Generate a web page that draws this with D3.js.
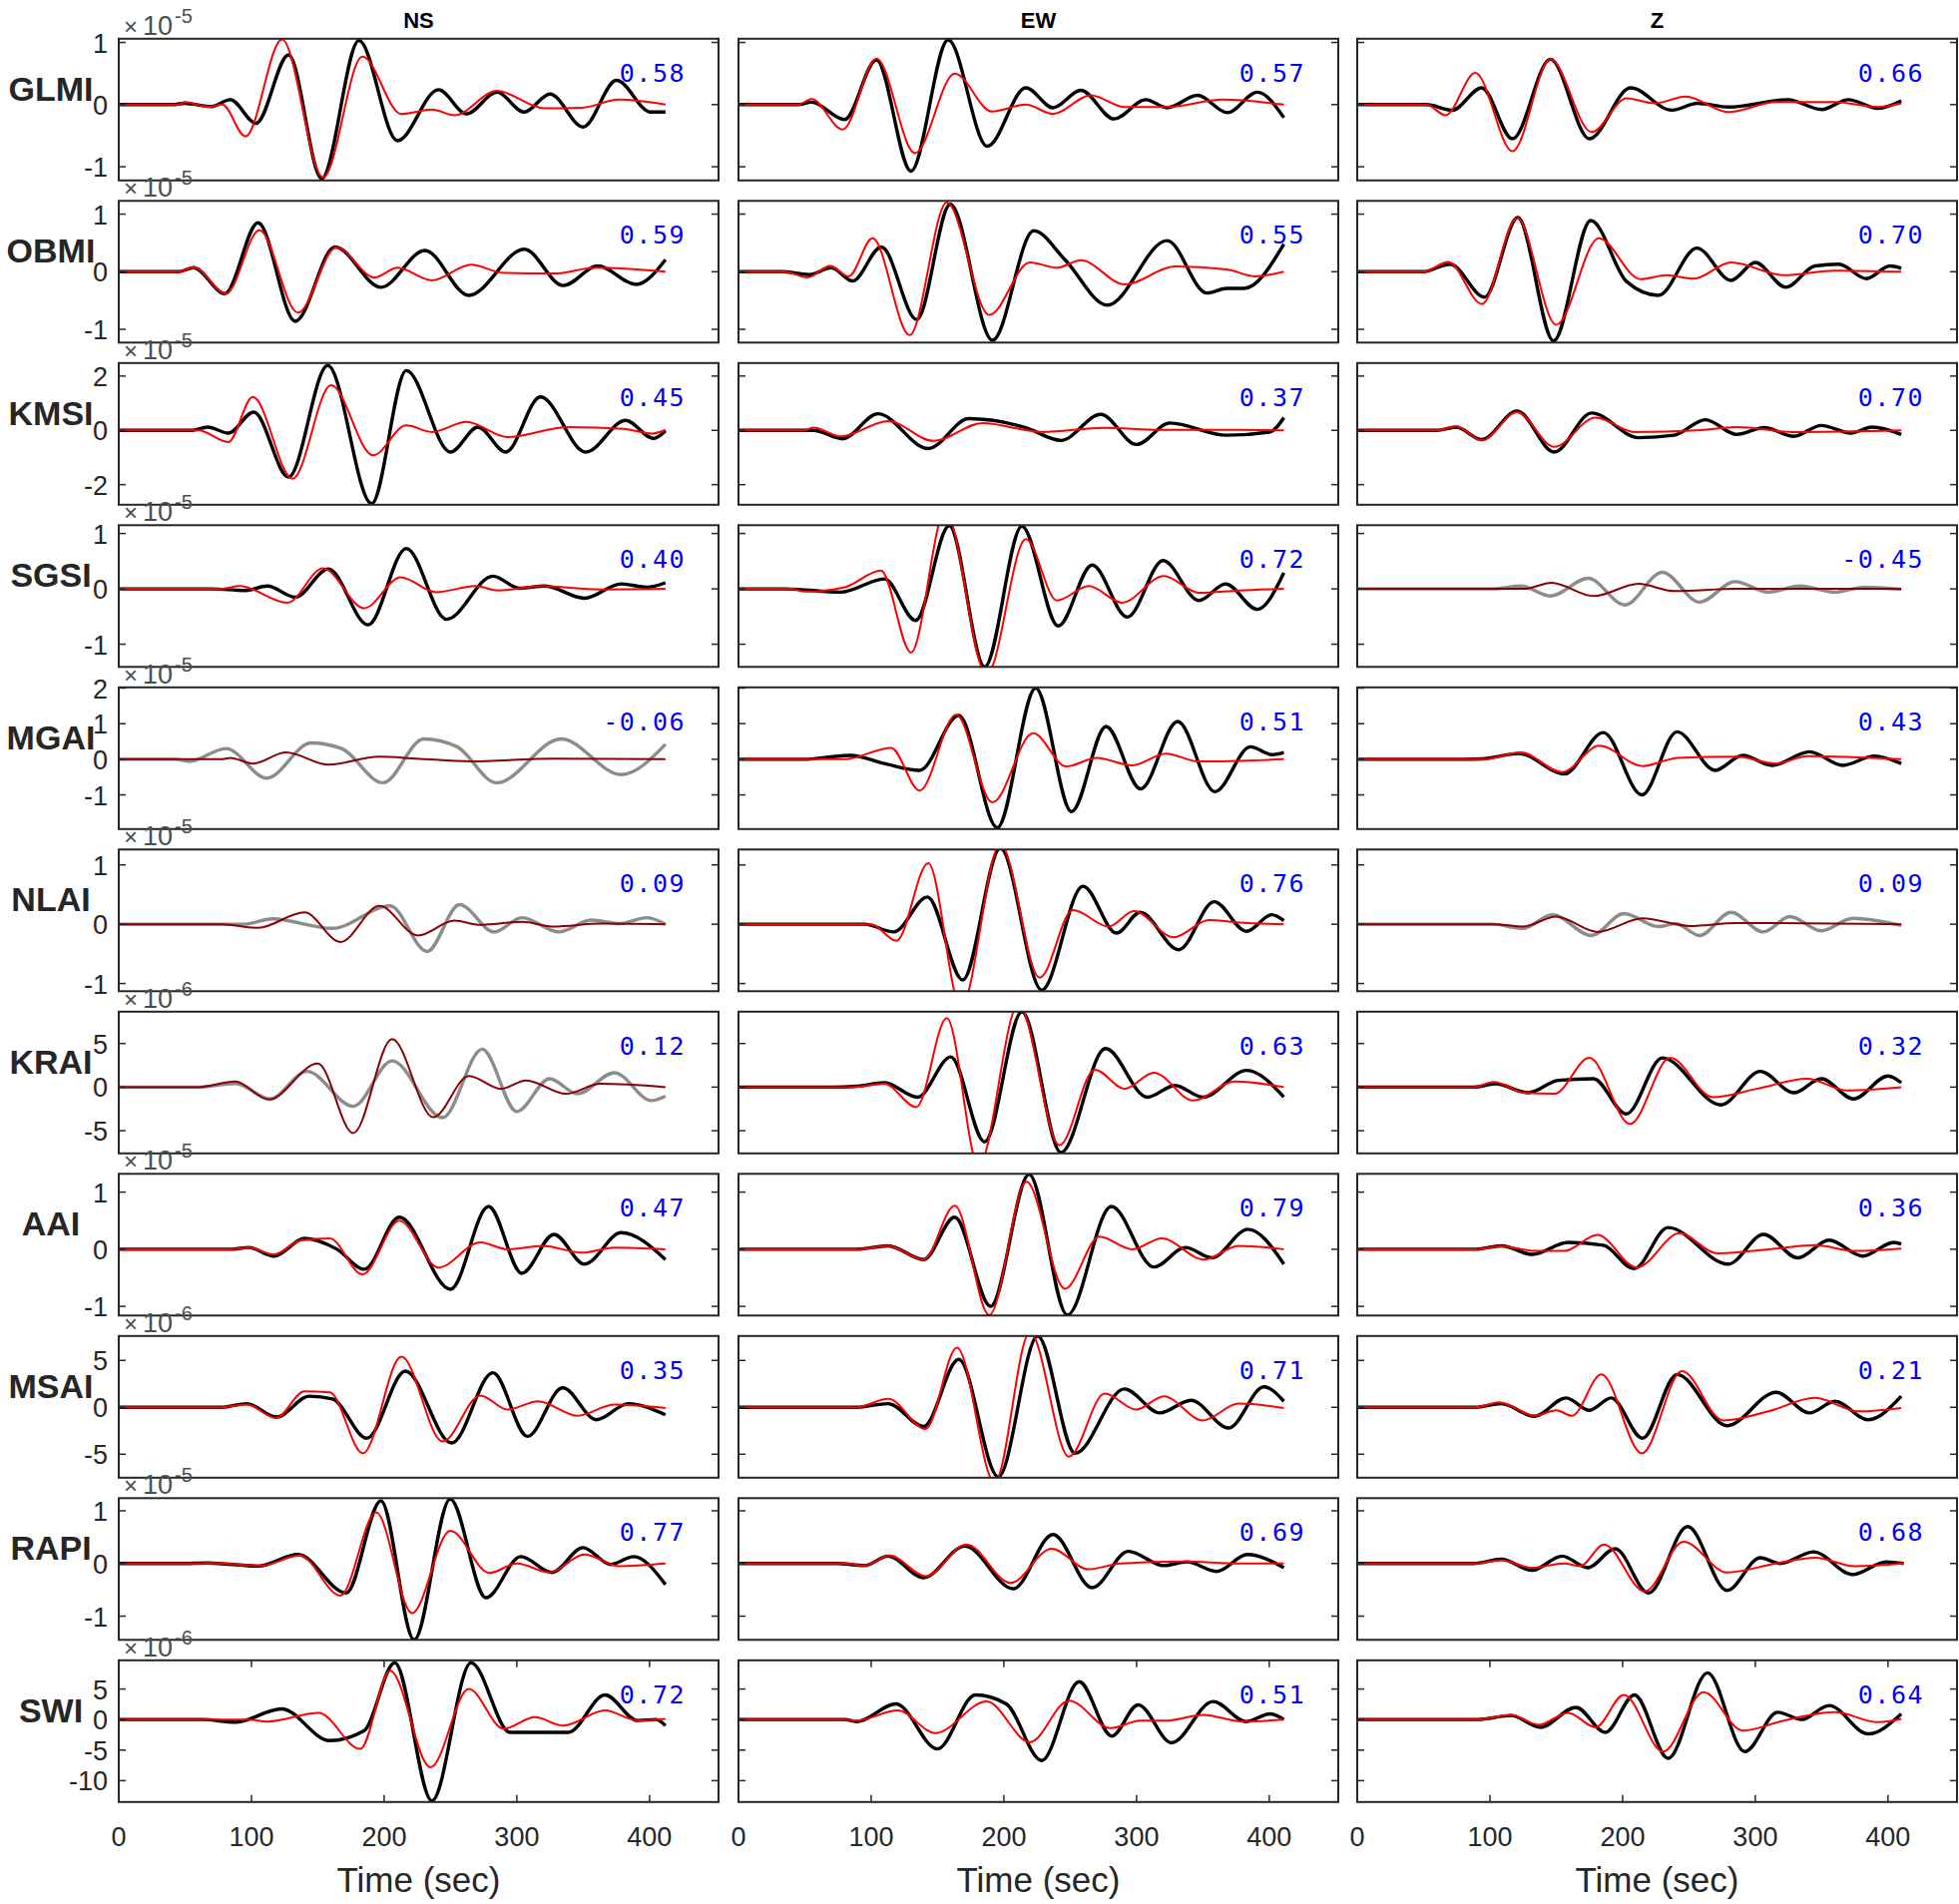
<!DOCTYPE html>
<html><head><meta charset="utf-8">
<script src="https://cdn.jsdelivr.net/npm/d3@7"></script>
<style>body{margin:0;background:#fff} svg{display:block}</style>
</head><body><svg id="chart" width="1963" height="1908"></svg>
<script>
// ---------------- DATA ----------------
const stations = ["GLMI","OBMI","KMSI","SGSI","MGAI","NLAI","KRAI","AAI","MSAI","RAPI","SWI"];
const components = ["NS","EW","Z"];
const corrNS = ["0.58","0.59","0.45","0.40","-0.06","0.09","0.12","0.47","0.35","0.77","0.72"];
const corrEW = ["0.57","0.55","0.37","0.72","0.51","0.76","0.63","0.79","0.71","0.69","0.51"];
const corrZ  = ["0.66","0.70","0.70","-0.45","0.43","0.09","0.32","0.36","0.21","0.68","0.64"];
const exponents = [-5,-5,-5,-5,-5,-5,-6,-5,-6,-5,-6];
const yMin = [-1.22,-1.23,-2.74,-1.41,-1.96,-1.13,-7.6,-1.16,-7.5,-1.45,-13.5];
const yMax = [1.06,1.23,2.48,1.15,2.02,1.26,8.65,1.32,7.6,1.24,9.7];
const yTicks = [[-1,0,1],[-1,0,1],[-2,0,2],[-1,0,1],[-1,0,1,2],[-1,0,1],[-5,0,5],[-1,0,1],[-5,0,5],[-1,0,1],[-10,-5,0,5]];
const xTicks = [0,100,200,300,400];
const xDomain = [0,452];
// traces flagged as poorly fitting (drawn grey / dark red)
const rejected = [[0,0,0],[0,0,0],[0,0,0],[0,0,1],[1,0,0],[1,0,1],[1,0,0],[0,0,0],[0,0,0],[0,0,0],[0,0,0]];

// observed (obs) and synthetic (syn) traces: [time s, amplitude] for NS, EW, Z
const obsGLMI = [
 [[0,0],[40,0],[49.5,0.02],[70,-0.03],[84,0.08],[103.5,-0.3],[128,0.8],[153,-1.19],[181,1.03],[210,-0.58],[241,0.24],[262,-0.15],[285,0.2],[305.5,-0.12],[325,0.17],[350,-0.36],[375,0.39],[401,-0.12],[412,-0.12]],
 [[0,0],[45,0],[55,0.04],[80,-0.24],[104,0.72],[130,-1.07],[158,1.04],[187.5,-0.67],[216.6,0.27],[237,-0.05],[258,0.23],[283,-0.23],[307,0.08],[323,-0.05],[346,0.15],[368.5,-0.13],[391,0.2],[411,-0.21]],
 [[0,0],[52,0],[71.6,-0.09],[93.8,0.27],[117,-0.55],[145.6,0.73],[175,-0.55],[206,0.27],[237,-0.09],[256.5,0.02],[280,-0.04],[324.5,0.08],[350,-0.08],[370,0.08],[392.6,-0.06],[410,0.06]]];
const synGLMI = [
 [[0,0],[45,0],[50,0.04],[68,-0.04],[78,0],[95.5,-0.51],[123,1.05],[154,-1.17],[183.6,0.77],[213,-0.15],[236,-0.08],[253,-0.17],[285,0.22],[321,-0.06],[349,-0.05],[377,0.08],[412,0]],
 [[0,0],[45,0],[55,0.09],[78.6,-0.4],[104,0.74],[133,-0.78],[163,0.5],[191,-0.11],[216.6,0],[237,-0.15],[265.6,0.15],[291,-0.04],[323,-0.04],[365,0.08],[411,0]],
 [[0,0],[52,0],[66.6,-0.17],[89,0.51],[117,-0.75],[145.6,0.73],[176.6,-0.44],[203,0.1],[224,0.02],[247.6,0.13],[280,-0.12],[315.7,0.04],[360,0.04],[392.6,-0.04],[410,0.02]]];

const obsOBMI = [
 [[0,0],[45,0],[56.4,0.07],[80,-0.38],[105,0.85],[133,-0.86],[163,0.43],[197.6,-0.27],[230.7,0.37],[263.8,-0.41],[305.6,0.39],[335,-0.24],[361,0.1],[390,-0.22],[412,0.21]],
 [[0,0],[32.6,0],[53.4,-0.05],[70,0.07],[86,-0.16],[107.7,0.43],[134.4,-0.83],[159.6,1.17],[191.4,-1.19],[222.5,0.71],[246,0.21],[278,-0.58],[323,0.54],[353,-0.37],[368,-0.29],[381,-0.29],[411,0.48]],
 [[0,0],[49.4,0],[70,0.13],[96,-0.44],[121,0.94],[148,-1.2],[176,0.89],[203,-0.17],[227,-0.41],[256,0.41],[281.7,-0.15],[300,0.16],[323,-0.27],[345,0.1],[363,0.13],[383.7,-0.12],[401.5,0.1],[410,0.06]]];
const synOBMI = [
 [[0,0],[45,0],[56.4,0.08],[80.8,-0.38],[106,0.72],[135,-0.71],[164,0.42],[193,-0.1],[210,0.07],[236,-0.15],[265.5,0.12],[290,-0.02],[328,-0.03],[359.6,0.07],[412,0]],
 [[0,0],[35,0],[52,-0.1],[69,0.1],[83,-0.08],[101,0.58],[129,-1.1],[157,1.2],[189,-0.75],[219.6,0.16],[240,0.07],[258,0.2],[291,-0.22],[329,0.09],[368,0.04],[389,-0.08],[411,0]],
 [[0,0],[50,0],[68.6,0.17],[94,-0.56],[120.4,0.93],[150,-0.92],[182,0.58],[213.6,-0.13],[233,-0.06],[253.6,-0.12],[281.7,0.16],[321.6,-0.06],[360,0.02],[410,0]]];

const obsKMSI = [
 [[0,0],[55,0],[67,0.12],[82.6,-0.1],[101.7,0.67],[128,-1.72],[157.5,2.39],[190.6,-2.7],[216.7,2.2],[250,-0.8],[270.7,0.12],[291.6,-0.8],[317.8,1.23],[352,-0.8],[382,0.37],[403,-0.3],[412,-0.02]],
 [[0,0],[56.4,0],[78.6,-0.31],[105,0.61],[143,-0.67],[173.6,0.43],[216.6,0.1],[243,-0.37],[273,0.59],[300,-0.52],[325,0.27],[368,-0.18],[400.6,-0.06],[411,0.47]],
 [[0,0],[60,0],[74.6,0.12],[93.8,-0.34],[120.4,0.71],[148.5,-0.8],[176.6,0.64],[212,-0.27],[238.8,-0.18],[262.4,0.39],[286,-0.15],[306.8,0.1],[329,-0.22],[349.7,0.18],[372,-0.1],[388,0.12],[410,-0.15]]];
const synKMSI = [
 [[0,0],[60,0],[82.6,-0.43],[101,1.23],[131,-1.78],[160,1.66],[191.6,-0.92],[216.7,0.18],[236,-0.06],[262,0.31],[293,-0.25],[338.7,0.12],[380.5,0.06],[401.4,-0.12],[412,0.02]],
 [[0,0],[50,0],[56.4,0.1],[77,-0.22],[112.8,0.34],[147,-0.39],[184,0.27],[228.5,-0.06],[276,0.09],[317.5,0.02],[376.9,0.02],[411,0]],
 [[0,0],[60,0],[74.6,0.15],[93.8,-0.37],[120.4,0.67],[148.5,-0.61],[179.6,0.47],[209,-0.06],[256.5,0],[286,0.12],[330.5,-0.06],[410,0]]];

const obsSGSI = [
 [[0,0],[70,0],[94.8,-0.03],[112,0.05],[133,-0.15],[158,0.36],[187.8,-0.65],[216.7,0.73],[247,-0.55],[282,0.23],[302,0.01],[321,0.05],[351,-0.17],[378.7,0.09],[398,0.03],[412,0.11]],
 [[0,0],[35.6,0],[77,-0.06],[110,0.18],[133.5,-0.57],[158.8,1.14],[185.5,-1.41],[213.6,1.13],[241,-0.67],[266.5,0.43],[293,-0.51],[320,0.51],[347,-0.21],[367,0.09],[391,-0.37],[411,0.29]],
 [[0,0],[102.7,0],[123.4,0.05],[145.6,-0.13],[174,0.19],[201.8,-0.29],[229.9,0.3],[258,-0.24],[284.6,0.13],[309.8,-0.06],[333.4,0.05],[360,-0.06],[382,0.03],[410,-0.01]]];
const synSGSI = [
 [[0,0],[77,0],[91,0.05],[127,-0.25],[154,0.37],[185,-0.35],[212.5,0.21],[239,-0.06],[269,0.05],[286,-0.03],[318,0.05],[363,-0.01],[412,0]],
 [[0,0],[40,0],[50,-0.05],[80,0.03],[107.4,0.33],[130,-1.15],[155.8,1.4],[187,-1.55],[216.6,0.9],[240,-0.21],[264,0.05],[289,-0.25],[320.5,0.23],[347,-0.07],[377,-0.03],[411,0]],
 [[0,0],[126,0],[146.4,0.11],[178,-0.13],[212,0.09],[238.8,-0.04],[286,0],[410,0]]];

const obsMGAI = [
 [[0,0],[42.5,0],[53,-0.06],[80.8,0.3],[111.5,-0.53],[145,0.46],[168,0.3],[199,-0.66],[230,0.57],[255,0.35],[284.7,-0.66],[333.4,0.57],[378.7,-0.43],[412,0.42]],
 [[0,0],[50,0],[65,0.05],[84.6,0.11],[110,-0.12],[136.5,-0.31],[166,1.23],[195,-1.92],[224,2.0],[251,-1.47],[277,0.92],[303,-0.83],[331,1.06],[359,-0.91],[385.8,0.35],[402,0.13],[411,0.19]],
 [[0,0],[80,0],[93.8,0.01],[122,0.16],[156,-0.41],[185.5,0.75],[214.5,-1.0],[241,0.77],[269.8,-0.31],[290.5,0.11],[312.7,-0.17],[340.8,0.21],[366,-0.17],[389.6,0.09],[410,-0.12]]];
const synMGAI = [
 [[0,0],[77,0],[84,0.04],[101,-0.12],[126,0.19],[158,-0.15],[196,0.07],[224,0.02],[265.5,-0.06],[328,0.02],[412,0]],
 [[0,0],[80,0],[115,0.32],[136.5,-0.88],[164,1.25],[191.4,-1.21],[222,0.73],[247,-0.2],[270,0.04],[296.7,-0.17],[322,0.16],[347,-0.06],[411,0]],
 [[0,0],[95,0],[123.4,0.19],[154.4,-0.36],[182.5,0.38],[215,-0.19],[241.7,0.04],[286,0.07],[315.7,-0.12],[339,0.09],[410,0]]];

const obsNLAI = [
 [[0,0],[94.8,0],[115.7,0.09],[161,-0.07],[204.5,0.31],[232.4,-0.46],[256.8,0.33],[283,-0.13],[303.8,0.11],[331.7,-0.13],[356,0.07],[377,0.01],[398,0.11],[412,0]],
 [[0,0],[95,0],[117,-0.13],[142.4,0.46],[169,-0.94],[197.3,1.28],[228.5,-1.11],[259.6,0.64],[284.9,-0.15],[302.7,0.2],[331.8,-0.43],[358.5,0.38],[382.8,-0.12],[402,0.16],[411,0.06]],
 [[0,0],[102.7,0],[124.9,-0.07],[147,0.16],[176.6,-0.19],[200.9,0.18],[227,-0.04],[240,0.01],[258,-0.19],[281.7,0.2],[306,-0.13],[326,0.13],[349.7,-0.11],[373.4,0.1],[410,-0.02]]];
const synNLAI = [
 [[0,0],[77,0],[105,-0.06],[140,0.2],[167,-0.3],[196.5,0.31],[225.4,-0.19],[253,0.06],[272.5,-0.01],[303.8,0.04],[328,-0.04],[363,0.01],[412,0]],
 [[0,0],[100,0],[119,-0.28],[143,1.03],[167.7,-1.4],[197.3,1.35],[227,-0.9],[252,0.24],[279,-0.04],[298,0.22],[328,-0.22],[354.6,0.07],[377,0.03],[411,0]],
 [[0,0],[102.7,0],[124.9,-0.04],[150,0.13],[181,-0.13],[215,0.1],[250.6,-0.03],[286,0.02],[315.7,0.02],[410,0]]];

const obsKRAI = [
 [[0,0],[60,0],[87.8,0.4],[114,-1.35],[141.8,1.8],[176.7,-2.2],[206,3.0],[244,-3.5],[274,4.35],[300,-2.8],[324.7,0.96],[345.6,-0.77],[373.5,1.65],[401.4,-1.54],[412,-1.04]],
 [[0,0],[70,0],[89,0.1],[110,0.5],[135,-1.15],[160,3.46],[185.5,-6.27],[213.6,8.65],[243,-7.5],[276.6,4.42],[308,-1.15],[329,0.19],[350,-1.15],[383,1.92],[411,-1.15]],
 [[0,0],[87.9,0],[104,0.38],[129,-0.65],[151.5,0.77],[178,0.96],[202.7,-3.08],[230,3.35],[274,-2.04],[303.8,1.8],[329,-0.65],[349.7,0.96],[374,-1.35],[400,1.27],[410,0.5]]];
const synKRAI = [
 [[0,0],[60,0],[87.8,0.65],[113,-1.42],[150,2.7],[176.7,-5.27],[206,5.5],[237,-3.46],[263.8,1.27],[288,-0.2],[307,0.77],[337,-0.77],[363,0.38],[412,0]],
 [[0,0],[85,0],[110,0.38],[134,-2.3],[157,7.9],[181,-9.0],[211,9.5],[242,-6.65],[268.5,2.0],[291,-0.2],[313,1.65],[342.7,-1.54],[374,0.65],[411,0]],
 [[0,0],[87.9,0],[102.7,0.58],[126,-0.65],[148.5,-0.77],[175,3.35],[205.6,-4.23],[235.8,3.35],[268,-1.15],[301,-0.2],[339,0.96],[369,-0.38],[410,0]]];

const obsAAI = [
 [[0,0],[84.3,0],[98,0.03],[117,-0.12],[140,0.19],[164.5,0],[185,-0.35],[211.5,0.56],[250,-0.7],[278.7,0.75],[303.8,-0.42],[328,0.26],[351,-0.26],[378.7,0.29],[412,-0.18]],
 [[0,0],[89,0],[112.8,0.06],[139.5,-0.18],[163,0.56],[190,-1.0],[219,1.31],[247.8,-1.15],[281,0.75],[313,-0.31],[336.8,0.03],[356.7,-0.15],[384,0.35],[411,-0.26]],
 [[0,0],[89,0],[108.6,0.06],[132,-0.09],[158.9,0.12],[185.5,0.07],[208.6,-0.34],[234.3,0.38],[279.6,-0.26],[306.2,0.26],[332,-0.15],[355.6,0.16],[380.8,-0.12],[404.4,0.12],[410,0.09]]];
const synAAI = [
 [[0,0],[84.3,0],[98,0.03],[117,-0.09],[136.6,0.15],[159,0.19],[183.6,-0.44],[211.5,0.5],[241,-0.32],[272.5,0.12],[293,0],[319.5,0.06],[349,-0.06],[373.5,0.03],[412,0]],
 [[0,0],[89,0],[112.8,0.06],[139.5,-0.18],[163,0.76],[189,-1.15],[217,1.18],[246,-0.69],[272,0.22],[296.7,0],[319,0.19],[350.7,-0.18],[376.8,0.06],[411,0]],
 [[0,0],[89,0],[108.6,0.05],[135,-0.03],[156,-0.03],[181,0.25],[210.7,-0.32],[243,0.28],[271,-0.07],[315.7,0.01],[345,0.07],[375,-0.03],[410,0.01]]];

const obsMSAI = [
 [[0,0],[77.4,0],[96.5,0.39],[119,-1.04],[143.5,1.18],[161,0.9],[187,-3.3],[216,3.86],[250.9,-3.8],[282,3.68],[308,-3.1],[334.5,2.07],[360,-1.32],[384,0.39],[412,-0.8]],
 [[0,0],[89,0],[112.8,0.39],[139.5,-2.04],[166,5.1],[195.8,-7.4],[225.5,7.6],[253.7,-4.9],[290.8,1.96],[317.5,-0.6],[341,0.75],[369.4,-2.2],[396,2.18],[411,0.64]],
 [[0,0],[89,0],[108.6,0.39],[133.7,-0.96],[157.4,1.0],[175,-0.32],[191.4,1.0],[215,-3.3],[241,3.5],[278.7,-1.96],[315.7,1.6],[340.8,-0.6],[360,0.64],[385,-1.32],[410,1.18]]];
const synMSAI = [
 [[0,0],[77.4,0],[96.5,0.3],[118.5,-1.14],[140,1.7],[159,1.6],[184,-4.9],[213,5.4],[244,-3.64],[272.5,1.25],[293,-0.25],[316,0.64],[345.6,-0.9],[373.5,0.29],[412,-0.07]],
 [[0,0],[89,0],[112.8,0.9],[141,-2.3],[164.7,6.36],[193,-8.0],[219.6,8.0],[249,-5.25],[276,1.46],[299.7,-0.25],[320.5,1.18],[350,-1.4],[376.8,0.39],[411,-0.07]],
 [[0,0],[89,0],[107,0.54],[133.7,-0.9],[150,-0.32],[161.8,-0.9],[184,3.5],[214.5,-4.9],[244.7,3.86],[275.7,-1.4],[309.8,-0.43],[345,1.0],[377.8,-0.43],[410,-0.07]]];

const obsRAPI = [
 [[0,0],[49.5,0],[67,0.01],[105,-0.05],[135,0.17],[171.4,-0.56],[197.6,1.19],[222.6,-1.45],[249.8,1.22],[276.7,-0.65],[303,0.13],[326.5,-0.17],[349.8,0.3],[370.7,-0.02],[388,0.13],[412,-0.4]],
 [[0,0],[74,0],[95,-0.04],[112.8,0.14],[139.5,-0.27],[170.6,0.33],[207,-0.48],[237,0.55],[266.5,-0.46],[293.8,0.23],[320.5,-0.04],[338,0.03],[360.5,-0.15],[383.4,0.17],[411,-0.08]],
 [[0,0],[87.9,0],[108.6,0.08],[131.7,-0.13],[154.4,0.14],[173.7,-0.08],[194.4,0.28],[219.5,-0.56],[249,0.7],[278.7,-0.51],[303.8,0.11],[318.6,0],[343.8,0.22],[373.4,-0.21],[398.5,0.03],[411.8,0]]];
const synRAPI = [
 [[0,0],[60,0],[67,0.01],[107,-0.04],[136.6,0.15],[167,-0.61],[194,0.97],[221,-0.94],[249.8,0.62],[279.4,-0.18],[300,0],[324.7,-0.17],[350.9,0.17],[377,-0.05],[412,0]],
 [[0,0],[80,0],[95,-0.04],[114,0.15],[141,-0.24],[172,0.36],[205,-0.37],[236,0.28],[263.5,-0.11],[287.8,0],[335,0.04],[376.8,0],[411,0]],
 [[0,0],[87.9,0],[108.6,0.06],[131.7,-0.08],[156,0],[167.8,-0.05],[186,0.36],[216.6,-0.53],[246,0.41],[278.7,-0.17],[315.7,0],[345,0.11],[375,-0.05],[411.8,0]]];

const obsSWI = [
 [[0,0],[63.4,0],[87.8,-0.44],[122.6,1.75],[159,-3.44],[185,-1.8],[208,9.3],[236,-13.3],[265.5,9.3],[295,-2.1],[338.7,-2.1],[366.5,4.04],[391,-0.16],[405,0],[412,-1.0]],
 [[0,0],[80,0],[89,-0.33],[118.7,2.57],[149.9,-4.8],[178.6,4.04],[201.8,2.57],[228.5,-6.7],[256.7,6.2],[281.3,-2.7],[301.2,2.4],[326.4,-3.8],[357.6,2.95],[382.8,-0.33],[400.6,0.93],[411,0]],
 [[0,0],[90.8,0],[116,0.66],[138,-1.26],[164.8,2.0],[187,-2.1],[209,4.04],[234.3,-6.34],[264,7.65],[292,-5.25],[317,1.2],[334.9,0],[355.6,2.3],[385,-2.35],[410,0.93]]];
const synSWI = [
 [[0,0],[98,0],[112,-0.33],[150.5,1.1],[182,-4.8],[204.5,8.0],[235,-7.8],[263.8,5.0],[290,-1.5],[313.6,0.38],[335,-1.0],[366.5,1.48],[391,-0.16],[412,0.1]],
 [[0,0],[80,0],[89,-0.16],[120,1.48],[148.4,-2.2],[187,2.95],[219.6,-3.7],[249,3.1],[280.4,-1.4],[302.7,-0.16],[323.4,-0.16],[350,0.77],[380,-0.33],[411,0]],
 [[0,0],[90.8,0],[116,0.77],[136.7,-0.87],[158.9,1.1],[179.6,-1.26],[200.9,4.04],[230.5,-5.25],[261,4.5],[290.5,-1.8],[321.6,-0.16],[360,1.2],[392.6,-0.44],[410,0.1]]];

const observed = [obsGLMI,obsOBMI,obsKMSI,obsSGSI,obsMGAI,obsNLAI,obsKRAI,obsAAI,obsMSAI,obsRAPI,obsSWI];
const synthetic = [synGLMI,synOBMI,synKMSI,synSGSI,synMGAI,synNLAI,synKRAI,synAAI,synMSAI,synRAPI,synSWI];
const corrs = [corrNS, corrEW, corrZ];

// ---------------- LAYOUT ----------------
const colLeft = [119, 740, 1360];
const panelW = 601, panelH = 142, rowTop0 = 38.8, rowStep = 162.5;
const FONT = "'Liberation Sans', Arial, Helvetica, sans-serif";
const AX = "#262626";
const svg = d3.select("#chart");
const defs = svg.append("defs");
const panelsG = svg.append("g");
const overlayG = svg.append("g");

stations.forEach((st, r) => {
  const top = rowTop0 + r * rowStep;
  const y = d3.scaleLinear().domain([yMin[r], yMax[r]]).range([top + panelH, top]);
  components.forEach((comp, c) => {
    const left = colLeft[c];
    const x = d3.scaleLinear().domain(xDomain).range([left, left + panelW]);
    const g = panelsG.append("g");
    const cid = `clip-${r}-${c}`;
    defs.append("clipPath").attr("id", cid).append("rect")
      .attr("x", left).attr("y", top).attr("width", panelW).attr("height", panelH);
    g.append("rect").attr("x", left).attr("y", top).attr("width", panelW).attr("height", panelH).attr("fill", "#fff");
    const line = d3.line().x(d => x(d[0])).y(d => y(d[1])).curve(d3.curveMonotoneX);
    const bad = rejected[r][c] === 1;
    const lg = g.append("g").attr("clip-path", `url(#${cid})`);
    lg.append("path").attr("d", line(observed[r][c])).attr("fill", "none")
      .attr("stroke", bad ? "#8c8c8c" : "#000").attr("stroke-width", 3.4).attr("stroke-linejoin", "round");
    lg.append("path").attr("d", line(synthetic[r][c])).attr("fill", "none")
      .attr("stroke", bad ? "#8b0000" : "#ff0000").attr("stroke-width", 2).attr("stroke-linejoin", "round");
    // y ticks (inward on both sides)
    yTicks[r].forEach(v => {
      const yy = y(v);
      g.append("line").attr("x1", left).attr("x2", left + 7).attr("y1", yy).attr("y2", yy).attr("stroke", AX).attr("stroke-width", 1.5);
      g.append("line").attr("x1", left + panelW - 7).attr("x2", left + panelW).attr("y1", yy).attr("y2", yy).attr("stroke", AX).attr("stroke-width", 1.5);
    });
    // x ticks only on the bottom row
    if (r === stations.length - 1) {
      xTicks.forEach(v => {
        const xx = x(v);
        g.append("line").attr("x1", xx).attr("x2", xx).attr("y1", top + panelH).attr("y2", top + panelH - 7).attr("stroke", AX).attr("stroke-width", 1.5);
        g.append("line").attr("x1", xx).attr("x2", xx).attr("y1", top).attr("y2", top + 7).attr("stroke", AX).attr("stroke-width", 1.5);
        g.append("text").attr("x", xx).attr("y", top + panelH + 44).attr("text-anchor", "middle")
          .attr("font-family", FONT).attr("font-size", 27).attr("fill", AX).text(v);
      });
      g.append("text").attr("x", left + panelW / 2).attr("y", 1896).attr("text-anchor", "middle")
        .attr("font-family", FONT).attr("font-size", 35).attr("fill", AX).text("Time (sec)");
    }
    g.append("rect").attr("x", left).attr("y", top).attr("width", panelW).attr("height", panelH)
      .attr("fill", "none").attr("stroke", AX).attr("stroke-width", 2);
    // correlation coefficient
    g.append("text").attr("x", left + panelW - 33).attr("y", top + 43).attr("text-anchor", "end")
      .attr("font-family", "'DejaVu Sans Mono', monospace").attr("font-size", 25).attr("letter-spacing", 1.5)
      .attr("fill", "#0000ff").text(corrs[c][r]);
    if (c === 0) {
      yTicks[r].forEach(v => {
        g.append("text").attr("x", left - 11).attr("y", y(v) + 10).attr("text-anchor", "end")
          .attr("font-family", FONT).attr("font-size", 27).attr("fill", AX).text(v);
      });
      g.append("text").attr("x", 51).attr("y", top + panelH / 2 - 9).attr("text-anchor", "middle")
        .attr("font-family", FONT).attr("font-weight", "bold").attr("font-size", 34).attr("fill", AX).text(st);
      const ex = overlayG.append("text").attr("x", left + 5).attr("y", top - 4)
        .attr("font-family", FONT).attr("font-size", 27).attr("fill", "#4d4d4d");
      ex.append("tspan").attr("font-size", 24).text("×");
      ex.append("tspan").attr("dx", 5).text("10");
      ex.append("tspan").attr("dx", 2).attr("dy", -12).attr("font-size", 20).text(String(exponents[r]));
    }
  });
});

// column titles
components.forEach((comp, c) => {
  svg.append("text").attr("x", colLeft[c] + panelW / 2).attr("y", 28).attr("text-anchor", "middle")
    .attr("font-family", FONT).attr("font-weight", "bold").attr("font-size", 22).attr("fill", "#000").text(comp);
});
</script>
</body></html>
